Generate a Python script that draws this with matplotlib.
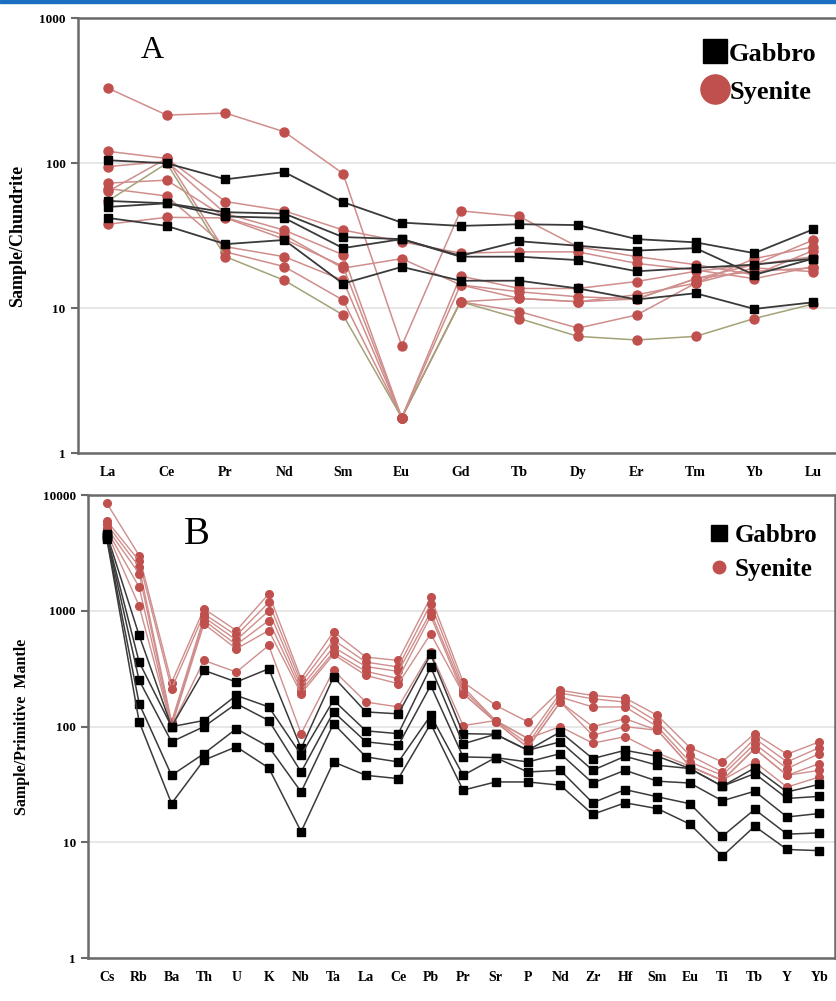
import matplotlib
matplotlib.use("Agg")
import matplotlib.pyplot as plt
from matplotlib.lines import Line2D

# ---------------- data ----------------
ree = ["La", "Ce", "Pr", "Nd", "Sm", "Eu", "Gd", "Tb", "Dy", "Er", "Tm", "Yb", "Lu"]

gabbro_ree = [
    [105, 100, 77.5, 87, 54, 39, 37, 38, 37.5, 30, 28.5, 24, 35],
    [55, 53, 46, 45, 31, 30, 23, 29, 27, 25, 26, 17, 22],
    [50, 53, 43, 42, 26, 30, 22.7, 22.7, 21.5, 18, 19, 20, 22],
    [42, 37, 27.7, 29.6, 14.8, 19.3, 15.5, 15.5, 13.7, 11.5, 12.7, 9.9, 11],
]

syenite_ree = [
    [330, 215, 222, 165, 85, 5.5, 47, 43, 26.5, 22.7, 20, 17, 25],
    [121, 108, 54.5, 47, 34.7, 28.8, 24, 24.5, 24.5, 20.4, 18.4, 16, 19.4],
    [95, 103, 45, 34.6, 23.4, 1.76, 16.7, 13.7, 13.7, 15.3, 18, 20, 22.7],
    [73, 76.5, 42.4, 32, 18.9, 22, 14.5, 11.7, 11.1, 12.4, 14.9, 22, 26.5],
    [67, 59.5, 26.6, 22.7, 15.6, 1.76, 11.1, 11.7, 11.1, 11.6, 16, 20, 29.5],
    [64, 108, 24.5, 19.4, 11.4, 1.76, 11.1, 9.5, 7.3, 9, 14.9, 19, 17.9],
    [55, 100, 22.7, 15.6, 9, 1.76, 11.1, 8.5, 6.4, 6.05, 6.4, 8.5, 10.7],
    [38, 42.4, 42, 30, 19.5, 1.76, 14.5, 13, 12, 11.6, 16, 18, 19],
]

spider = ["Cs", "Rb", "Ba", "Th", "U", "K", "Nb", "Ta", "La", "Ce", "Pb", "Pr",
          "Sr", "P", "Nd", "Zr", "Hf", "Sm", "Eu", "Ti", "Tb", "Y", "Yb"]

gabbro_pm = [
    [4600, 613, 100, 306, 243, 316, 65, 268, 134, 129, 420, 87, 86, 62.5, 90, 53, 62.5, 55.5, 43.5, 30.6, 44, 27.3, 31.8],
    [4500, 361, 100, 113, 186, 148, 57, 169, 92, 87, 327, 71, 86, 62.5, 74, 42, 55.5, 46.4, 43.5, 30.6, 39.3, 24, 25],
    [4400, 251, 74, 100, 158, 113, 40.6, 134, 74, 69, 227, 54.8, 54, 49.6, 58.5, 32.6, 42, 33.8, 32.6, 22.9, 27.7, 16.6, 17.8],
    [4300, 158, 38, 58.5, 96, 67, 27.3, 106, 54.8, 49.6, 125, 38, 54, 40.6, 42, 22, 28.6, 24.8, 21.6, 11.3, 19.3, 11.8, 12.1],
    [4200, 110, 21.7, 51.4, 67, 44, 12.4, 49.6, 38, 35.6, 106, 28.3, 33.3, 33.3, 31.2, 17.5, 22, 19.6, 14.4, 7.6, 13.8, 8.7, 8.5],
]

syenite_pm = [
    [8500, 3000, 240, 1040, 676, 1400, 260, 660, 398, 373, 1312, 243, 153, 110, 206, 186, 177, 125, 66, 49.6, 87, 57.8, 74],
    [6000, 2700, 212, 940, 613, 1180, 240, 560, 361, 327, 1150, 220, 113, 79, 195, 174, 163, 110, 56.5, 40.6, 79, 49.6, 66],
    [5600, 2400, 110, 880, 560, 1000, 220, 486, 330, 300, 975, 206, 113, 71, 180, 148, 148, 100, 49.6, 38, 71, 43.5, 58.5],
    [5200, 2100, 105, 825, 510, 825, 205, 440, 300, 260, 900, 193, 110, 66, 163, 100, 117, 93, 45.5, 34.4, 64.5, 38, 48],
    [5000, 1600, 100, 770, 470, 676, 193, 420, 277, 235, 634, 193, 110, 66, 163, 84, 100, 93, 45.5, 34.4, 64.5, 38, 42],
    [4800, 1100, 100, 373, 296, 503, 87, 306, 163, 148, 440, 102, 113, 79, 100, 72, 82, 59.3, 45.5, 34.4, 49.6, 30.1, 36.8],
]

# ---------------- style ----------------
SERIF = ["Liberation Serif", "DejaVu Serif"]
RED = "#c0504d"
REDLINE = "#cf8e8c"
OLIVE = "#a3a278"
GLINE = "#3a3a3a"
SPINE = "#6a6a6a"
GRID = "#e3e3e3"

W, H = 837, 1001
fig = plt.figure(figsize=(W / 100, H / 100), dpi=100)
fig.patch.set_facecolor("white")

# blue page strip at the very top
fig.add_artist(plt.Rectangle((0, 1 - 3 / H), 1, 3 / H, transform=fig.transFigure,
                             color="#1b6fc2", zorder=10))


def fx(px):
    return px / W


def fy(py):
    return 1 - py / H


def style_axes(ax, ylabel, ylsize, show_right):
    ax.grid(axis="y", which="major", color=GRID, lw=1.2, zorder=0)
    ax.grid(axis="x", visible=False)
    ax.minorticks_off()
    for s in ["left", "bottom", "top", "right"]:
        ax.spines[s].set_color(SPINE)
        ax.spines[s].set_linewidth(1.8)
    ax.spines["right"].set_visible(show_right)
    ax.tick_params(axis="y", which="major", length=5, width=1.5, color=SPINE, pad=4)
    ax.tick_params(axis="x", length=0, pad=9)
    for lab in ax.get_yticklabels():
        lab.set_fontfamily(SERIF)
        lab.set_fontweight("bold")
        lab.set_fontsize(9.5)
    ax.set_ylabel(ylabel, family=SERIF, fontweight="bold", fontsize=ylsize, labelpad=9)


# ---------------- panel A ----------------
axA = fig.add_axes([fx(78), fy(453.3), fx(843 - 78), (453.3 - 18.3) / H])
axA.set_yscale("log")
axA.set_ylim(1, 1000)
xA = list(range(len(ree)))
for i, s in enumerate(syenite_ree):
    lc = OLIVE if i == 6 else REDLINE
    axA.plot(xA, s, color=lc, lw=1.1, marker="o", ms=6.5, mfc=RED, mec=RED, zorder=3)
for g in gabbro_ree:
    axA.plot(xA, g, color=GLINE, lw=1.3, marker="s", ms=6, mfc="black", mec="black", zorder=4)
axA.set_xlim(-0.51, 12.51)
axA.set_xticks(xA)
axA.set_xticklabels(ree, family=SERIF, fontweight="bold", fontsize=10)
axA.set_yticks([1, 10, 100, 1000])
axA.set_yticklabels(["1", "10", "100", "1000"])
axA.minorticks_off()
style_axes(axA, "Sample/Chundrite", 13, False)
fig.text(fx(152), fy(50), "A", family=SERIF, fontsize=23, ha="center", va="center")

hA = [Line2D([], [], ls="none", marker="s", ms=17, mfc="black", mec="black"),
      Line2D([], [], ls="none", marker="o", ms=21, mfc=RED, mec=RED)]
axA.legend(hA, ["Gabbro", "Syenite"], loc="upper right",
           bbox_to_anchor=(fx(830), fy(29)), bbox_transform=fig.transFigure,
           frameon=False, handlelength=0.75, handletextpad=0.15, labelspacing=0.55,
           borderpad=0, prop={"family": SERIF, "weight": "bold", "size": 19})

# ---------------- panel B ----------------
axB = fig.add_axes([fx(88.3), fy(958.3), fx(835 - 88.3), (958.3 - 495) / H])
axB.set_yscale("log")
axB.set_ylim(1, 10000)
xB = list(range(len(spider)))
for s in syenite_pm:
    axB.plot(xB, s, color=REDLINE, lw=1.0, marker="o", ms=5.5, mfc=RED, mec=RED, zorder=3)
for g in gabbro_pm:
    axB.plot(xB, g, color=GLINE, lw=1.1, marker="s", ms=5.5, mfc="black", mec="black", zorder=4)
axB.set_xlim(-0.57, 22.48)
axB.set_xticks(xB)
axB.set_xticklabels(spider, family=SERIF, fontweight="bold", fontsize=10)
axB.set_yticks([1, 10, 100, 1000, 10000])
axB.set_yticklabels(["1", "10", "100", "1000", "10000"])
axB.minorticks_off()
style_axes(axB, "Sample/Primitive  Mantle", 11.5, True)
fig.text(fx(197), fy(535), "B", family=SERIF, fontsize=28, ha="center", va="center")

hB = [Line2D([], [], ls="none", marker="s", ms=11, mfc="black", mec="black"),
      Line2D([], [], ls="none", marker="o", ms=9, mfc=RED, mec=RED)]
axB.legend(hB, ["Gabbro", "Syenite"], loc="upper right",
           bbox_to_anchor=(fx(830), fy(511)), bbox_transform=fig.transFigure,
           frameon=False, handlelength=0.8, handletextpad=0.25, labelspacing=0.45,
           borderpad=0, prop={"family": SERIF, "weight": "bold", "size": 18})

fig.savefig("out.png", dpi=100, facecolor="white")
